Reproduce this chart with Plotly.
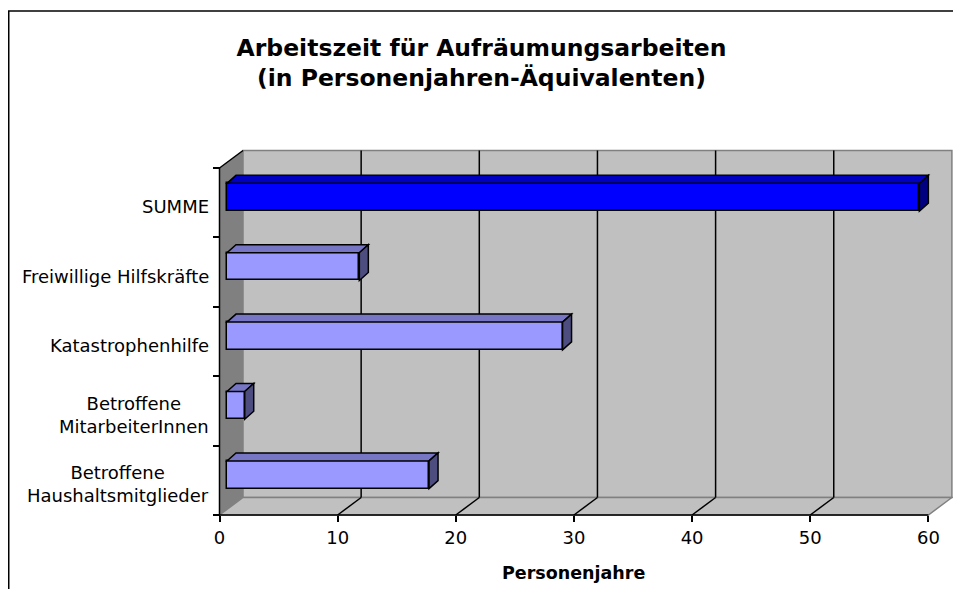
import plotly.graph_objects as go

# ---------------- data ----------------
categories = [
    "Betroffene<br>Haushaltsmitglieder",
    "Betroffene<br>MitarbeiterInnen",
    "Katastrophenhilfe",
    "Freiwillige Hilfskräfte",
    "SUMME",
]
values = [17.1, 1.5, 28.4, 11.2, 58.6]
front_colors = ["#9999FF", "#9999FF", "#9999FF", "#9999FF", "#0000FF"]
top_colors = ["#7676C4", "#7676C4", "#7676C4", "#7676C4", "#0000C0"]
side_colors = ["#4D4D80", "#4D4D80", "#4D4D80", "#4D4D80", "#000080"]
x_ticks = [0, 10, 20, 30, 40, 50, 60]
x_tick_labels = ["0", "10", "20", "30", "40", "50", "60"]
title_text = "Arbeitszeit für Aufräumungsarbeiten<br>(in Personenjahren-Äquivalenten)"
x_title = "Personenjahre"

FONT = "DejaVu Sans"

# ---------------- geometry (pixels in figure -> data units) ----------------
W, H = 961, 589
ML, MR, MT, MB = 204, 14, 139, 74
X0_PX = 211.5        # pixel column of value 0 on the front edge
PX_PER_X = 11.815    # pixels per value unit
YF_PX = 507          # pixel row of the front floor edge
PX_PER_CAT = 69.4    # pixels per category

plot_w = W - ML - MR
plot_h = H - MT - MB
x_range = [(ML - X0_PX) / PX_PER_X, (W - MR - X0_PX) / PX_PER_X]
y_bot = -0.5 - (H - MB - YF_PX) / PX_PER_CAT
y_range = [y_bot, y_bot + plot_h / PX_PER_CAT]

DX = 23.5 / PX_PER_X          # wall depth
DY = 17.5 / PX_PER_CAT
BOX = 7.5 / PX_PER_X          # bar front offset
BOY = 5.5 / PX_PER_CAT
BDX = 9.0 / PX_PER_X          # bar depth
BDY = 8.0 / PX_PER_CAT
BH = 0.2                      # half bar thickness (category units)


def paper_x(px):
    return (px - ML) / plot_w


def paper_y(py):
    return (H - MB - py) / plot_h


n = len(categories)
y_lo, y_hi = -0.5, n - 0.5
x_max = x_ticks[-1]

shapes = []
# side wall
shapes.append(dict(type="path", layer="below", xref="x", yref="y",
                   path=f"M 0,{y_lo} L 0,{y_hi} L {DX},{y_hi+DY} L {DX},{y_lo+DY} Z",
                   fillcolor="#808080", line=dict(width=0)))
# back wall
shapes.append(dict(type="rect", layer="below", xref="x", yref="y",
                   x0=DX, x1=x_max + DX, y0=y_lo + DY, y1=y_hi + DY,
                   fillcolor="#C0C0C0", line=dict(color="#808080", width=1.5)))
# floor
shapes.append(dict(type="path", layer="below", xref="x", yref="y",
                   path=f"M 0,{y_lo} L {x_max},{y_lo} L {x_max+DX},{y_lo+DY} L {DX},{y_lo+DY} Z",
                   fillcolor="#C0C0C0", line=dict(color="#808080", width=1.5)))
# gridlines on back wall and floor diagonals
for t in x_ticks[1:-1]:
    shapes.append(dict(type="line", layer="below", xref="x", yref="y",
                       x0=t + DX, x1=t + DX, y0=y_lo + DY, y1=y_hi + DY,
                       line=dict(color="black", width=1.5)))
    shapes.append(dict(type="line", layer="below", xref="x", yref="y",
                       x0=t, x1=t + DX, y0=y_lo, y1=y_lo + DY,
                       line=dict(color="black", width=1.5)))
# side wall top edge
shapes.append(dict(type="line", layer="below", xref="x", yref="y",
                   x0=0, x1=DX, y0=y_hi, y1=y_hi + DY,
                   line=dict(color="black", width=1.5)))
# front axis lines
shapes.append(dict(type="line", layer="below", xref="x", yref="y",
                   x0=0, x1=x_max, y0=y_lo, y1=y_lo, line=dict(color="black", width=1.5)))
shapes.append(dict(type="line", layer="below", xref="x", yref="y",
                   x0=0, x1=0, y0=y_lo, y1=y_hi, line=dict(color="black", width=1.5)))

# 3D faces of bars (top and right end)
for i, v in enumerate(values):
    yc = i + BOY
    x_a = BOX
    x_b = BOX + v
    top = (f"M {x_a},{yc+BH} L {x_b},{yc+BH} L {x_b+BDX},{yc+BH+BDY} "
           f"L {x_a+BDX},{yc+BH+BDY} Z")
    side = (f"M {x_b},{yc-BH} L {x_b+BDX},{yc-BH+BDY} L {x_b+BDX},{yc+BH+BDY} "
            f"L {x_b},{yc+BH} Z")
    shapes.append(dict(type="path", layer="above", xref="x", yref="y", path=top,
                       fillcolor=top_colors[i], line=dict(color="black", width=1.5)))
    shapes.append(dict(type="path", layer="above", xref="x", yref="y", path=side,
                       fillcolor=side_colors[i], line=dict(color="black", width=1.5)))

# outer frame of the chart area: only its top and left edges are in view
shapes.append(dict(type="line", xref="paper", yref="paper",
                   x0=paper_x(0), x1=paper_x(W), y0=paper_y(3), y1=paper_y(3),
                   line=dict(color="black", width=1.5)))
shapes.append(dict(type="line", xref="paper", yref="paper",
                   x0=paper_x(0.75), x1=paper_x(0.75), y0=paper_y(3), y1=paper_y(H),
                   line=dict(color="black", width=1.5)))

fig = go.Figure()
fig.add_trace(go.Bar(
    orientation="h",
    y=[i + BOY for i in range(n)],
    x=values,
    base=BOX,
    width=2 * BH,
    marker=dict(color=front_colors, line=dict(color="black", width=1.5)),
    hoverinfo="x",
    showlegend=False,
))

annotations = []
for i, c in enumerate(categories):
    annotations.append(dict(x=0, y=i, xref="x", yref="y", text=c, showarrow=False,
                            xanchor="right", yanchor="middle", align="center",
                            xshift=-9, yshift=-4,
                            font=dict(family=FONT, size=18, color="black")))
annotations.append(dict(x=x_max / 2, y=paper_y(565), xref="x", yref="paper",
                        text=f"<b>{x_title}</b>", showarrow=False,
                        xanchor="center", yanchor="middle",
                        font=dict(family=FONT, size=17.5, color="black")))

fig.update_layout(
    width=W, height=H,
    margin=dict(l=ML, r=MR, t=MT, b=MB, pad=0),
    paper_bgcolor="white",
    plot_bgcolor="rgba(0,0,0,0)",
    title=dict(text=f"<b>{title_text}</b>", x=473.5 / W, xref="container",
               y=1 - 47.5 / H, yref="container", xanchor="center", yanchor="middle",
               font=dict(family=FONT, size=23.5, color="black")),
    xaxis=dict(range=x_range, anchor="free", position=paper_y(YF_PX),
               tickmode="array", tickvals=x_ticks, ticktext=x_tick_labels,
               ticks="outside", ticklen=6, tickwidth=1.5, tickcolor="black",
               showgrid=False, zeroline=False, showline=False,
               tickfont=dict(family=FONT, size=18, color="black")),
    yaxis=dict(range=y_range, anchor="free", position=paper_x(X0_PX),
               tickmode="array", tickvals=[k - 0.5 for k in range(n + 1)],
               ticks="outside", ticklen=7, tickwidth=1.5, tickcolor="black",
               showticklabels=False, showgrid=False, zeroline=False, showline=False),
    bargap=0,
    shapes=shapes,
    annotations=annotations,
    showlegend=False,
)

fig.write_html("out.html")
